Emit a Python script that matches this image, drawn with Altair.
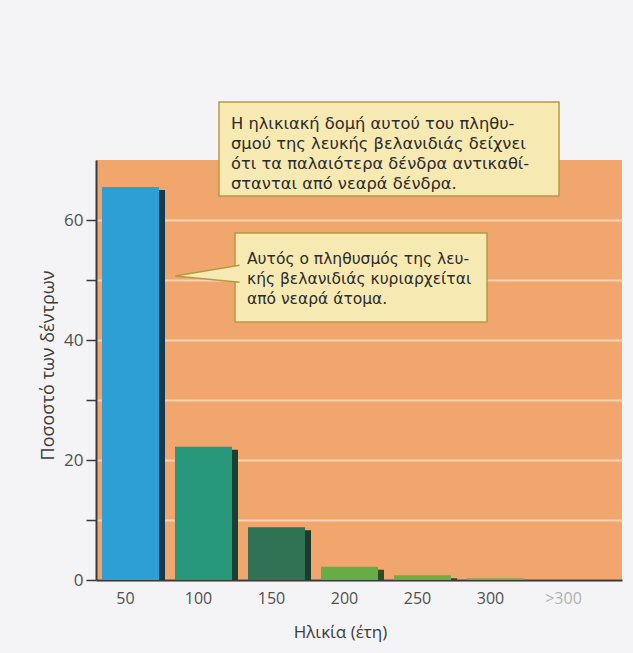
import altair as alt
import pandas as pd

# Age classes (years) and share of trees in each class (%)
ages = ["50", "100", "150", "200", "250", "300", ">300"]
shares = [65.5, 22.2, 8.8, 2.2, 0.8, 0.3, 0.0]
face_colors = ["#2d9fd4", "#27997a", "#2f7354", "#67ac46", "#74aa40", "#7bab4b", "#7bab4b"]
side_colors = ["#17394f", "#1b4032", "#1d3b2b", "#2f4b22", "#34491f", "#3a4a25", "#3a4a25"]

y_ticks = [0, 10, 20, 30, 40, 50, 60]

note_top = [
    "Η ηλικιακή δομή αυτού του πληθυ-",
    "σμού της λευκής βελανιδιάς δείχνει",
    "ότι τα παλαιότερα δένδρα αντικαθί-",
    "στανται από νεαρά δένδρα.",
]
note_mid = [
    "Αυτός ο πληθυσμός της λευ-",
    "κής βελανιδιάς κυριαρχείται",
    "από νεαρά άτομα.",
]

df = pd.DataFrame({"age": ages, "share": shares})

AXIS_FONT = "Open Sans"
NOTE_FONT = "DejaVu Sans"
NOTE_FILL = "#f7e9b2"
NOTE_EDGE = "#b49a46"
INK = "#2b2b2b"

x_scale = alt.Scale(domain=ages, paddingInner=0.137, paddingOuter=0.171, align=0.24)
y_scale = alt.Scale(domain=[0, 70], nice=False)
color_face = alt.Scale(domain=ages, range=face_colors)
color_side = alt.Scale(domain=ages, range=side_colors)

x_enc = alt.X(
    "age:N",
    scale=x_scale,
    sort=ages,
    axis=alt.Axis(
        title="Ηλικία (έτη)",
        labelAngle=0,
        ticks=False,
        labelPadding=10,
        labelOffset=-8,
        labelFont=AXIS_FONT,
        labelFontSize=16,
        labelColor={"condition": {"test": "datum.value == '>300'", "value": "#b0b0b4"}, "value": "#505050"},
        domainColor="#3a3a3a",
        domainWidth=2,
        titleFont=AXIS_FONT,
        titleFontSize=17,
        titleFontWeight="normal",
        titleColor="#3c3c3c",
        titleX=244,
        titleY=52,
        titleBaseline="middle",
        grid=False,
    ),
)
y_enc = alt.Y(
    "share:Q",
    scale=y_scale,
    axis=alt.Axis(
        title="Ποσοστό των δέντρων",
        values=y_ticks,
        labelExpr="datum.value % 20 == 0 ? datum.label : ''",
        labelFont=AXIS_FONT,
        labelFontSize=17,
        labelColor="#505050",
        labelPadding=3,
        tickSize=10,
        tickWidth=1.5,
        tickColor="#3a3a3a",
        domainColor="#3a3a3a",
        domainWidth=2,
        grid=True,
        gridColor="#f8d3b4",
        gridWidth=2,
        titleFont=AXIS_FONT,
        titleFontSize=18,
        titleFontWeight="normal",
        titleColor="#3c3c3c",
        titleAngle=-90,
        titleX=-48,
        titleY=205,
        titleAlign="center",
        titleBaseline="middle",
    ),
)

base = alt.Chart(df)

# dark side of each column, drawn slightly lower to suggest depth
sides = base.mark_bar(clip=True, yOffset=3).encode(
    x=x_enc,
    y=y_enc,
    y2=alt.datum(0),
    color=alt.Color("age:N", scale=color_side, legend=None),
)

# front face of each column
faces = base.mark_bar(width=alt.RelativeBandSize(0.905), xOffset=-3).encode(
    x=alt.X("age:N", scale=x_scale, sort=ages),
    y=alt.Y("share:Q", scale=y_scale),
    y2=alt.datum(0),
    color=alt.Color("age:N", scale=color_face, legend=None),
)

one = alt.Chart(pd.DataFrame({"k": [0]}))

box_top = one.mark_rect(fill=NOTE_FILL, stroke=NOTE_EDGE, strokeWidth=1.5).encode(
    x=alt.value(123), x2=alt.value(463), y=alt.value(-58), y2=alt.value(36)
)
box_mid = one.mark_rect(fill=NOTE_FILL, stroke=NOTE_EDGE, strokeWidth=1.5).encode(
    x=alt.value(139), x2=alt.value(391), y=alt.value(73), y2=alt.value(162)
)
pointer = one.mark_point(
    shape="M 1.05 -0.34 L -1 0 L 1.05 0.2",
    filled=True,
    fill=NOTE_FILL,
    stroke=NOTE_EDGE,
    strokeWidth=1.5,
    opacity=1,
    size=3969,
).encode(x=alt.value(110.5), y=alt.value(116))

text_top = one.mark_text(
    align="left", baseline="alphabetic", font=NOTE_FONT, fontSize=16.3, lineHeight=20, color=INK
).encode(x=alt.value(135), y=alt.value(-31), text=alt.value(note_top))
text_mid = one.mark_text(
    align="left", baseline="alphabetic", font=NOTE_FONT, fontSize=15.5, lineHeight=20, color=INK
).encode(x=alt.value(151), y=alt.value(104), text=alt.value(note_mid))

chart = (
    alt.layer(sides, faces, box_top, box_mid, pointer, text_top, text_mid)
    .resolve_scale(color="independent")
    .properties(
        width=526,
        height=420,
        autosize=alt.AutoSizeParams(type="none"),
        padding={"left": 96, "top": 160, "right": 11, "bottom": 73},
        background="#f4f4f6",
    )
    .configure_view(fill="#f1a66e", stroke=None)
)

chart.save("out.html", embed_options={"renderer": "svg", "actions": False})
